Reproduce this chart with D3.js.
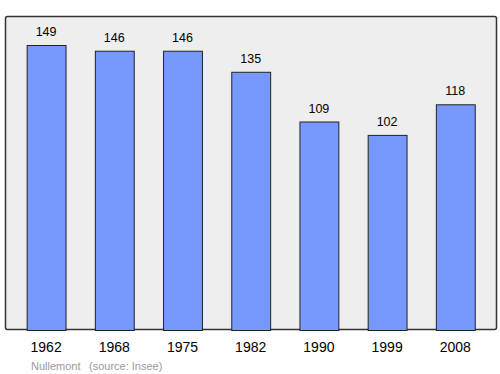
<!DOCTYPE html>
<html><head><meta charset="utf-8">
<script src="https://cdn.jsdelivr.net/npm/d3@7"></script>
<style>body{margin:0;background:#fff}svg{display:block}</style>
</head><body>
<script>
const years = ["1962","1968","1975","1982","1990","1999","2008"];
const population = [149,146,146,135,109,102,118];
const footerName = "Nullemont";
const footerSource = "(source: Insee)";

const W = 500, H = 374;
const svg = d3.select("body").append("svg").attr("width", W).attr("height", H);

svg.append("rect").attr("x", 5.5).attr("y", 16.5).attr("width", 491).attr("height", 313)
  .attr("rx", 2).attr("fill", "#eeeeee").attr("stroke", "#333").attr("stroke-width", 1.5);

const x = d3.scaleBand().domain(years).range([12, 489.4]).paddingInner(0.43).paddingOuter(0.215);
const y = d3.scaleLinear().domain([0, 149]).range([330, 45]);

svg.selectAll("rect.bar").data(years).join("rect").attr("class","bar")
  .attr("x", d => x(d) + 0.5).attr("y", (d,i) => y(population[i]) + 0.5)
  .attr("width", x.bandwidth()).attr("height", (d,i) => y(0) - y(population[i]))
  .attr("fill", "#7799ff").attr("stroke", "#222").attr("stroke-width", 1);

svg.selectAll("text.val").data(years).join("text").attr("class","val")
  .attr("x", d => x(d) + x.bandwidth()/2).attr("y", (d,i) => y(population[i]) - 9)
  .attr("text-anchor","middle").attr("font-family","Liberation Sans, Arial, sans-serif")
  .attr("font-size", 12.5).attr("fill","#000").text((d,i) => population[i]);

const axis = d3.axisBottom(x).tickSize(0).tickPadding(12);
const g = svg.append("g").attr("transform","translate(0,330)").call(axis);
g.select(".domain").remove();
g.selectAll("text").attr("font-family","Liberation Sans, Arial, sans-serif").attr("font-size", 14).attr("fill","#000");

svg.append("text").attr("x", 31).attr("y", 370).attr("font-family","Liberation Sans, Arial, sans-serif")
  .attr("font-size", 11).attr("fill","#999").text(footerName);
svg.append("text").attr("x", 89).attr("y", 370).attr("font-family","Liberation Sans, Arial, sans-serif")
  .attr("font-size", 11).attr("fill","#999").text(footerSource);
</script>
</body></html>
